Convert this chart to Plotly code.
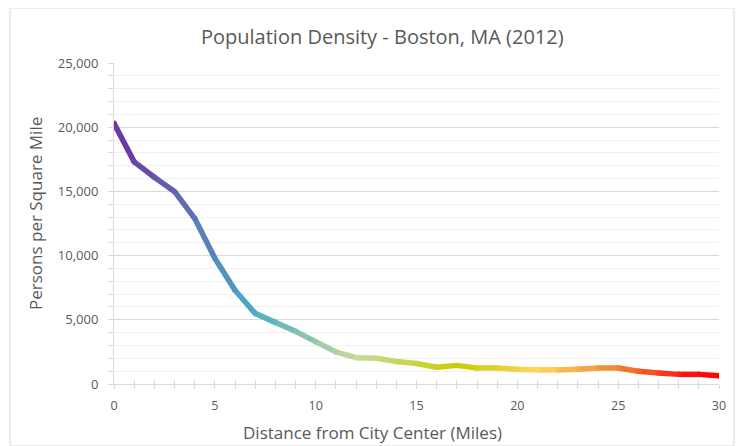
import plotly.graph_objects as go

distance = list(range(31))
density = [20300, 17300, 16100, 15000, 12900, 9800, 7300, 5500, 4800, 4100,
           3300, 2500, 2050, 2000, 1750, 1600, 1300, 1450, 1250, 1250,
           1150, 1100, 1100, 1150, 1250, 1250, 1000, 850, 750, 750, 650]
x_ticks = [0, 5, 10, 15, 20, 25, 30]
y_ticks = [0, 5000, 10000, 15000, 20000, 25000]

title_text = "Population Density - Boston, MA (2012)"
x_title = "Distance from City Center (Miles)"
y_title = "Persons per Square Mile"

# gradient stops (fraction along x, colour)
stops = [(0.0, (0x70, 0x30, 0xA0)), (0.23, (0x4B, 0xAC, 0xC6)),
         (0.40, (0xC6, 0xDC, 0x9A)), (0.57, (0xCC, 0xCC, 0x00)),
         (0.70, (0xFF, 0xD6, 0x5E)), (0.84, (0xF0, 0x7F, 0x30)),
         (0.95, (0xFF, 0x10, 0x10)), (1.0, (0xFF, 0x00, 0x00))]


def grad(t):
    for (t0, c0), (t1, c1) in zip(stops[:-1], stops[1:]):
        if t <= t1:
            f = (t - t0) / (t1 - t0) if t1 > t0 else 0
            c = [round(a + (b - a) * f) for a, b in zip(c0, c1)]
            return "rgb(%d,%d,%d)" % tuple(c)
    return "rgb(255,0,0)"


xmax = 30.0
fig = go.Figure()
for i in range(len(distance) - 1):
    mid = (distance[i] + distance[i + 1]) / 2 / xmax
    fig.add_trace(go.Scatter(
        x=[distance[i], distance[i + 1]], y=[density[i], density[i + 1]],
        mode="lines", line=dict(color=grad(mid), width=5.5),
        hoverinfo="skip", showlegend=False))
fig.add_trace(go.Scatter(
    x=distance, y=density, mode="markers",
    marker=dict(size=5.5, color=[grad(d / xmax) for d in distance], line=dict(width=0)),
    showlegend=False))
# helper trace so the overlay axis with inside ticks is drawn
fig.add_trace(go.Scatter(x=[distance[0]], y=[density[0]], xaxis="x2", mode="markers",
                         marker=dict(opacity=0), hoverinfo="skip", showlegend=False))

grey = "#595959"
font = "Open Sans, Noto Sans, sans-serif"
# page body adds an 8px offset; plot area target: x 114..719, y 63..384 (window px)
OFF = 8
L, R, T, B = 114, 719, 63, 384
W, H = 744 - OFF, 446 - OFF
PW, PH = R - L, B - T


def px(xp):
    return (xp - L) / PW


def py(yp):
    return (B - yp) / PH


fig.update_layout(
    width=W, height=H,
    margin=dict(l=L - OFF, r=W - (R - OFF), t=T - OFF, b=H - (B - OFF)),
    paper_bgcolor="white", plot_bgcolor="white",
    font=dict(family=font, color=grey, size=12),
    xaxis=dict(range=[0, 30], tickvals=x_ticks, ticks="outside", ticklen=4,
               tickcolor="#D9D9D9", showgrid=False, zeroline=False,
               showline=True, linecolor="#D9D9D9", linewidth=1,
               minor=dict(dtick=1, ticks="outside", ticklen=4, tickcolor="#D9D9D9"),
               ticklabelstandoff=6,
               tickfont=dict(size=12.5, color=grey)),
    xaxis2=dict(range=[0, 30], overlaying="x", side="bottom", dtick=1,
                ticks="inside", ticklen=4, tickcolor="#D9D9D9",
                showticklabels=False, showgrid=False, zeroline=False, showline=False),
    yaxis=dict(range=[0, 25000], tickvals=y_ticks, tickformat=",",
               ticks="outside", ticklen=5, tickcolor="#D9D9D9",
               showgrid=True, gridcolor="#D9D9D9", gridwidth=1, zeroline=False,
               showline=True, linecolor="#D9D9D9",
               minor=dict(dtick=1000, ticks="outside", ticklen=5, tickcolor="#D9D9D9",
                          showgrid=True, gridcolor="#F0F0F0"),
               ticklabelstandoff=7,
               tickfont=dict(size=13, color=grey)),
    annotations=[
        dict(text=title_text, xref="paper", yref="paper", x=px(382.5), y=py(37),
             xanchor="center", yanchor="middle", showarrow=False,
             font=dict(size=20, color=grey, family=font)),
        dict(text=x_title, xref="paper", yref="paper", x=px(372.5),
             y=py(433), xanchor="center", yanchor="middle", showarrow=False,
             font=dict(size=17, color=grey, family=font)),
        dict(text=y_title, xref="paper", yref="paper", x=px(35),
             y=py(214), xanchor="center", yanchor="middle", showarrow=False, textangle=-90,
             font=dict(size=17, color=grey, family=font)),
    ],
    shapes=[dict(type="rect", xref="paper", yref="paper",
                 x0=px(10), x1=px(734), y0=py(446), y1=py(8),
                 line=dict(color="#D9D9D9", width=1), layer="below")],
)

fig.write_html("out.html")
